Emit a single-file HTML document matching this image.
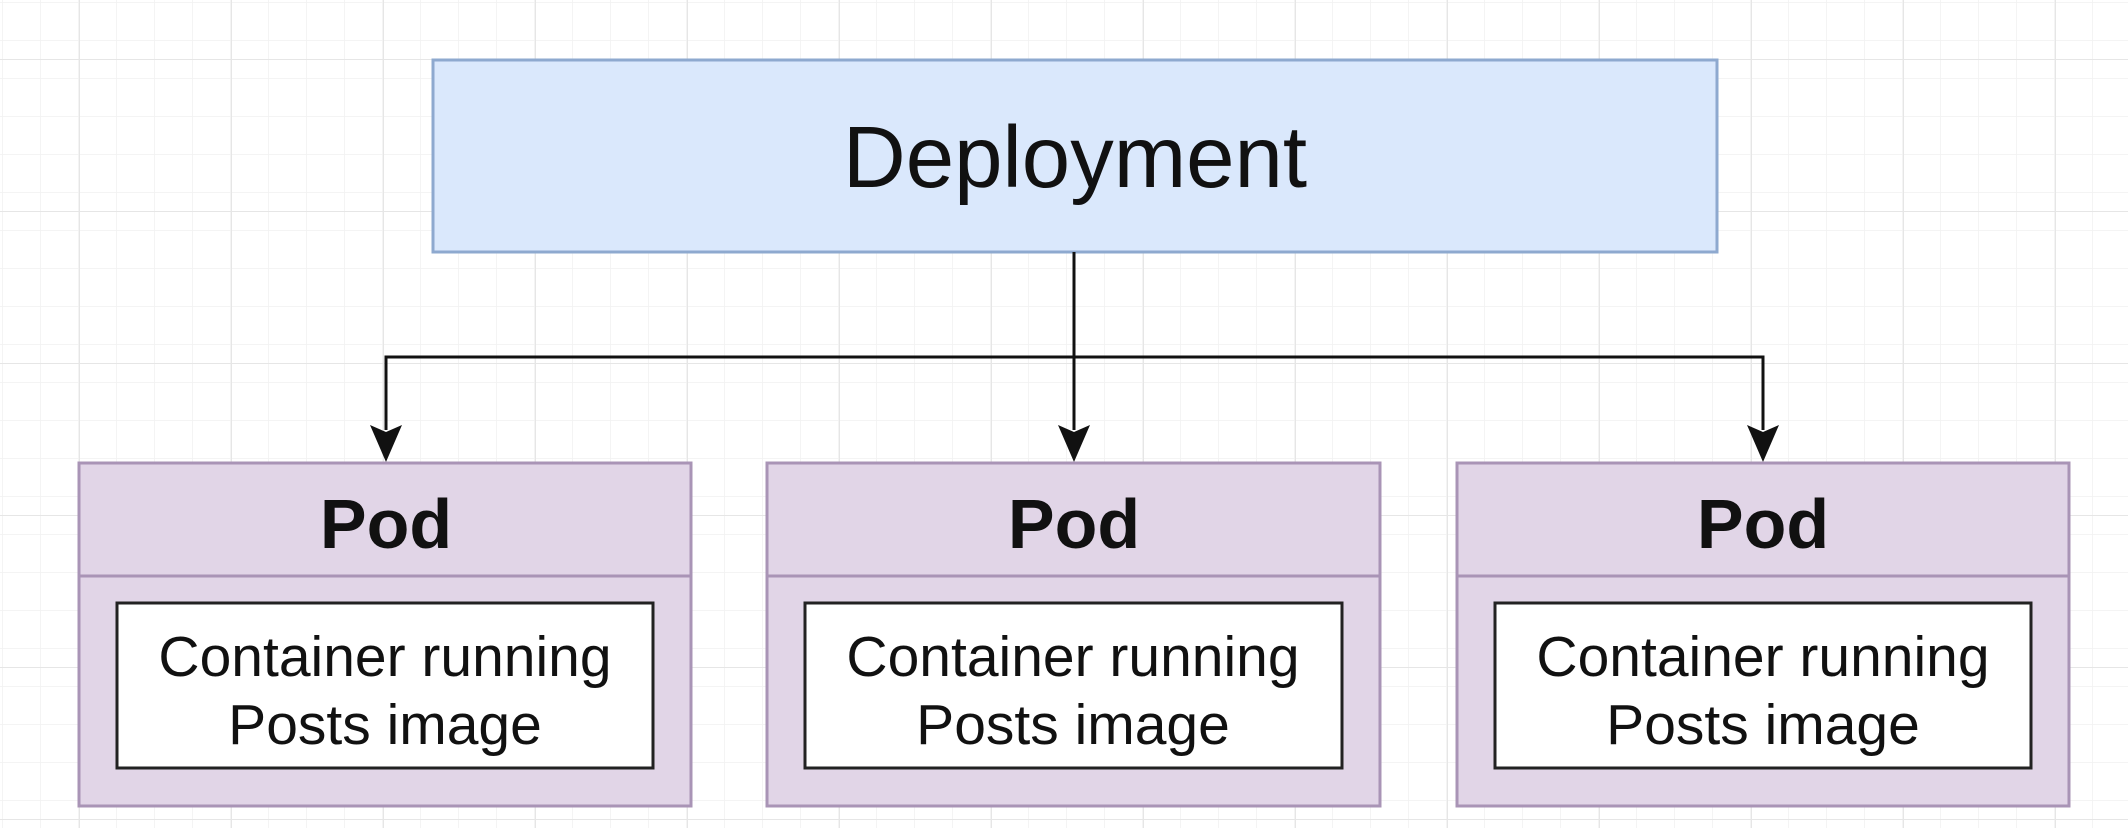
<!DOCTYPE html>
<html><head><meta charset="utf-8"><style>
html,body{margin:0;padding:0;background:#fff;}
svg{display:block;}
</style></head><body>
<svg width="2128" height="828" viewBox="0 0 2128 828" xmlns="http://www.w3.org/2000/svg">
<defs>
<pattern id="g" width="38" height="38" patternUnits="userSpaceOnUse" x="3" y="3">
<path d="M38 0V38M0 38H38" fill="none" stroke="#f1f1f1" stroke-width="1.5"/>
</pattern>
<pattern id="G" width="152" height="152" patternUnits="userSpaceOnUse" x="79" y="59">
<path d="M0 0V152M0 0H152" fill="none" stroke="#e6e6e6" stroke-width="2"/>
</pattern>
</defs>
<rect width="2128" height="828" fill="url(#g)"/>
<rect width="2128" height="828" fill="url(#G)"/>

<rect x="433" y="60" width="1284" height="192" fill="#dae8fc" stroke="#8ea9cf" stroke-width="3"/>
<text x="1075" y="187" font-family="Liberation Sans, sans-serif" font-size="87" text-anchor="middle" fill="#111">Deployment</text>

<g stroke="#111" stroke-width="3" fill="none">
<path d="M1074 252V430"/>
<path d="M386 430V357H1763V430"/>
</g>
<g fill="#111">
<path d="M370 425L386 462L402 425L386 432Z"/>
<path d="M1058 425L1074 462L1090 425L1074 432Z"/>
<path d="M1747 425L1763 462L1779 425L1763 432Z"/>
</g>

<g font-family="Liberation Sans, sans-serif" fill="#111" text-anchor="middle">
<g>
<rect x="79" y="463" width="612" height="343" fill="#e1d5e7" stroke="#a994b6" stroke-width="3"/>
<line x1="79" y1="576" x2="691" y2="576" stroke="#a994b6" stroke-width="3"/>
<text x="386" y="548" font-size="70" font-weight="bold">Pod</text>
<rect x="117" y="603" width="536" height="165" fill="#fff" stroke="#222" stroke-width="3"/>
<text x="385" y="676" font-size="57">Container running</text>
<text x="385" y="744" font-size="57">Posts image</text>
</g>
<g>
<rect x="767" y="463" width="613" height="343" fill="#e1d5e7" stroke="#a994b6" stroke-width="3"/>
<line x1="767" y1="576" x2="1380" y2="576" stroke="#a994b6" stroke-width="3"/>
<text x="1074" y="548" font-size="70" font-weight="bold">Pod</text>
<rect x="805" y="603" width="537" height="165" fill="#fff" stroke="#222" stroke-width="3"/>
<text x="1073" y="676" font-size="57">Container running</text>
<text x="1073" y="744" font-size="57">Posts image</text>
</g>
<g>
<rect x="1457" y="463" width="612" height="343" fill="#e1d5e7" stroke="#a994b6" stroke-width="3"/>
<line x1="1457" y1="576" x2="2069" y2="576" stroke="#a994b6" stroke-width="3"/>
<text x="1763" y="548" font-size="70" font-weight="bold">Pod</text>
<rect x="1495" y="603" width="536" height="165" fill="#fff" stroke="#222" stroke-width="3"/>
<text x="1763" y="676" font-size="57">Container running</text>
<text x="1763" y="744" font-size="57">Posts image</text>
</g>
</g>
</svg>
</body></html>
